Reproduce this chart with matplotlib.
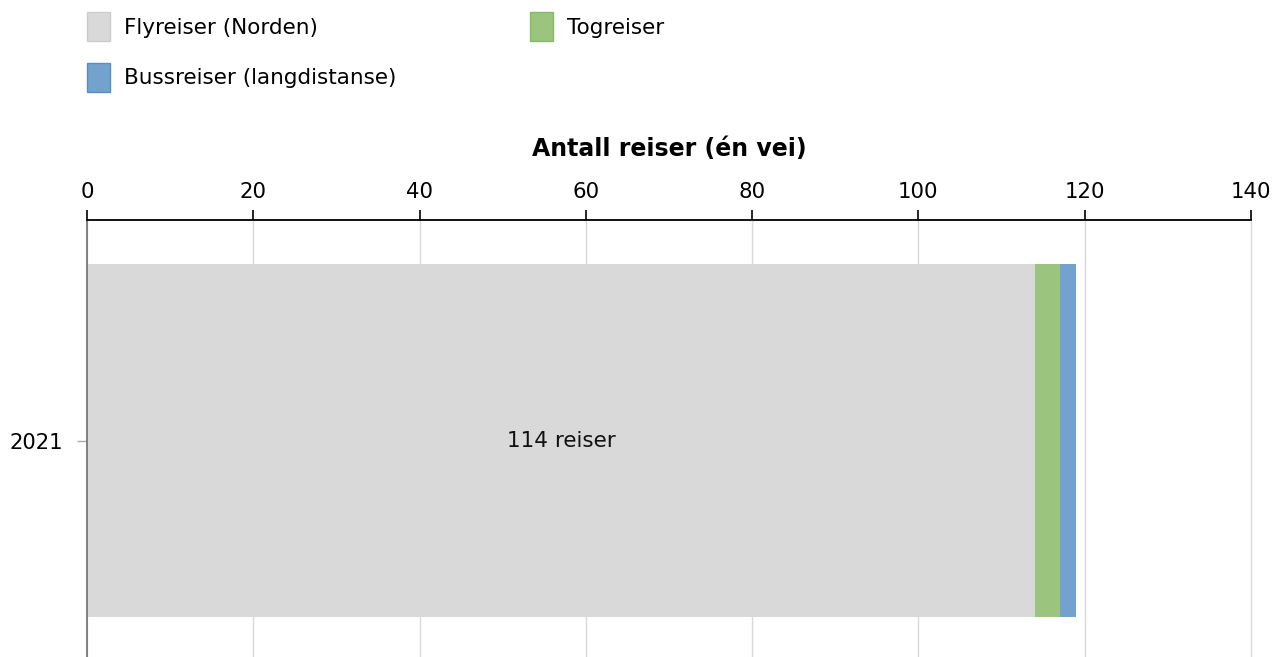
import matplotlib.pyplot as plt

years = ['2021']
series = ['Flyreiser (Norden)', 'Togreiser', 'Bussreiser (langdistanse)']
values = [[114], [3], [2]]
colors = ['#d9d9d9', '#9bc57e', '#72a2cd']
edges = ['#cccccc', '#88b96a', '#5b8ec4']
bar_labels = ['114 reiser', '', '']

plt.rcParams['font.family'] = ['DejaVu Sans']

fig = plt.figure(figsize=(12.88, 6.57), dpi=100)
ax = fig.add_axes([87 / 1288, 0, (1251 - 87) / 1288, 1 - 220 / 657])

left = [0] * len(years)
bars = []
for name, vals, c, lab in zip(series, values, colors, bar_labels):
    b = ax.barh(range(len(years)), vals, left=left, height=0.81, color=c, label=name, zorder=2)
    if lab:
        ax.bar_label(b, labels=[lab], label_type='center', fontsize=15.5, color='#111111')
    bars.append(b)
    left = [l + v for l, v in zip(left, vals)]

ax.set_xlim(0, 140)
ax.set_ylim(0.4954, -0.5046)
ax.set_xticks(range(0, 141, 20))
ax.set_yticks(range(len(years)))
ax.set_yticklabels(years)
ax.xaxis.tick_top()
ax.xaxis.set_label_position('top')
ax.set_xlabel('Antall reiser (én vei)', fontsize=17, fontweight='bold', labelpad=18.5)
ax.grid(axis='x', color='#d9d9d9', linewidth=1, zorder=0)
for gl in ax.get_xgridlines():
    gl.set_clip_on(False)
ax.tick_params(axis='x', labelsize=15.3, length=7, width=1.2, color='black', pad=6)
ax.tick_params(axis='y', labelsize=15.2, length=7, width=1, color='#aaaaaa', pad=10)
for s in ['bottom', 'right']:
    ax.spines[s].set_visible(False)
ax.spines['top'].set_linewidth(1.3)
ax.spines['left'].set_color('#777777')
ax.spines['left'].set_linewidth(1.3)

# legend: column-major order so Togreiser lands top-right
order = [0, 2, 1]
leg = fig.legend([bars[i] for i in order], [series[i] for i in order],
                 loc='upper left', bbox_to_anchor=(87 / 1288, 1 - 12 / 657),
                 ncol=2, frameon=False, fontsize=15.5, borderpad=0, borderaxespad=0,
                 handlelength=1.07, handleheight=1.7, handletextpad=0.65,
                 labelspacing=1.0, columnspacing=6.2)
for h, i in zip(leg.legend_handles, order):
    h.set_edgecolor(edges[i])
    h.set_linewidth(1)

fig.savefig('out.png', dpi=100)
